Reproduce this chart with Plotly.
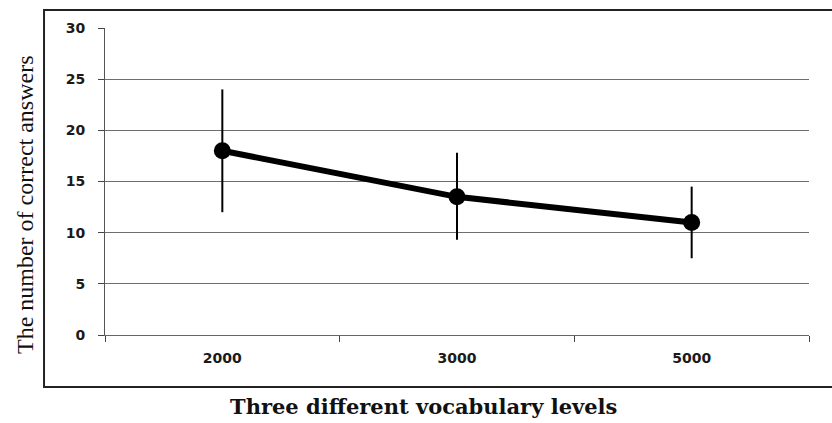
import plotly.graph_objects as go

levels = ["2000", "3000", "5000"]
correct = [18.0, 13.5, 11.0]
err_plus = [6.0, 4.3, 3.5]
err_minus = [6.0, 4.2, 3.5]
y_ticks = [0, 5, 10, 15, 20, 25, 30]

fig = go.Figure()
fig.add_trace(go.Scatter(
    x=levels, y=correct, mode="lines+markers",
    line=dict(color="black", width=6),
    marker=dict(color="black", size=17),
    error_y=dict(type="data", array=err_plus, arrayminus=err_minus,
                 color="black", thickness=2, width=0),
    showlegend=False,
))

tick_font = dict(size=14, family="DejaVu Sans", weight="bold", color="#1a1a1a")

fig.update_layout(
    width=832, height=423,
    margin=dict(l=105, r=23, t=28, b=88),
    paper_bgcolor="white", plot_bgcolor="white",
    xaxis=dict(
        type="category", range=[-0.5, 2.5], showgrid=False,
        showline=True, linecolor="#666", linewidth=1,
        ticks="outside", tickson="boundaries", ticklen=6, tickcolor="#444",
        tickfont=tick_font, ticklabelstandoff=10,
    ),
    yaxis=dict(
        range=[0, 30], tickvals=y_ticks, showgrid=True, gridcolor="#6e6e6e", gridwidth=1,
        showline=True, linecolor="#555", linewidth=1, zeroline=False,
        ticks="outside", ticklen=6, tickcolor="#444",
        tickfont=tick_font, ticklabelstandoff=10,
    ),
)

# outer frame
fig.add_shape(type="rect", xref="paper", yref="paper",
              x0=-0.0866, x1=1.05, y0=-0.1694, y1=1.0586,
              line=dict(color="#222", width=2), fillcolor="rgba(0,0,0,0)")

fig.add_annotation(text="The number of correct answers", xref="paper", yref="paper",
                   x=-0.1136, y=0.4235, textangle=-90, showarrow=False,
                   font=dict(family="Liberation Serif", size=24, color="#111"),
                   xanchor="center", yanchor="middle")
fig.add_annotation(text="<b>Three different vocabulary levels</b>", xref="paper", yref="paper",
                   x=0.453, y=-0.2345, showarrow=False,
                   font=dict(family="DejaVu Serif", size=21, color="#111"),
                   xanchor="center", yanchor="middle")

fig.write_html("out.html", config={"displayModeBar": False},
               post_script="document.body.style.margin='0';document.body.style.overflow='hidden';")
